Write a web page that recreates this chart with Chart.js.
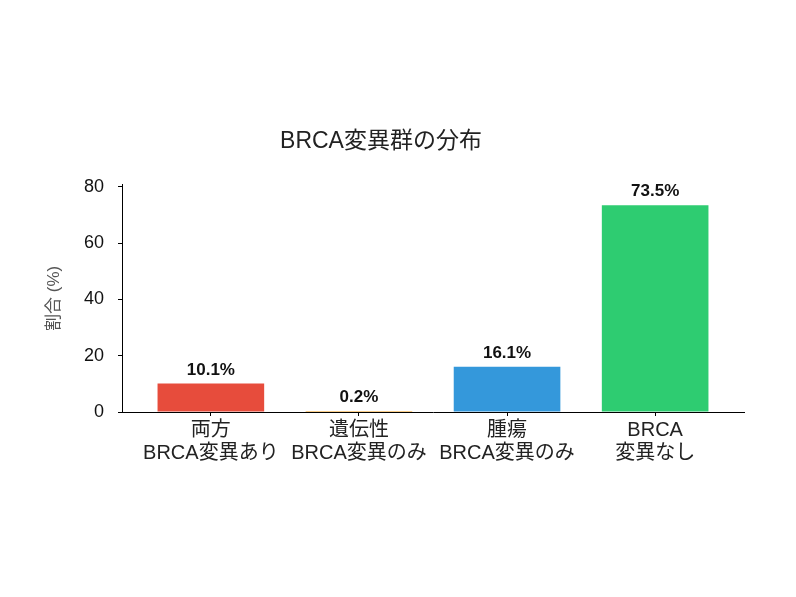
<!DOCTYPE html>
<html lang="ja">
<head>
    <meta charset="UTF-8">
    <title>BRCA変異群の分布</title>
    <style>
        html, body { margin: 0; padding: 0; background: #fff; }
        #wrap { width: 796px; height: 597px; }
    </style>
</head>
<body>
    <div id="wrap">
        <canvas id="brcaChart" width="796" height="597"></canvas>
    </div>
    <script src="https://cdn.jsdelivr.net/npm/chart.js"></script>
    <script>
        // データ
        const categories = [
            ['両方', 'BRCA変異あり'],
            ['遺伝性', 'BRCA変異のみ'],
            ['腫瘍', 'BRCA変異のみ'],
            ['BRCA', '変異なし']
        ];
        const percentages = [10.1, 0.2, 16.1, 73.5];
        const barColors = ['#e74c3c', '#f39c12', '#3498db', '#2ecc71'];
        const yTickValues = [0, 20, 40, 60, 80];

        const FONT = '"Liberation Sans", Arial, "Noto Sans CJK JP", sans-serif';

        // 棒の上に値を描く
        const valueLabels = {
            id: 'valueLabels',
            afterDatasetsDraw(chart) {
                const ctx = chart.ctx;
                const meta = chart.getDatasetMeta(0);
                ctx.save();
                ctx.font = 'bold 17px ' + FONT;
                ctx.fillStyle = '#111';
                ctx.textAlign = 'center';
                ctx.textBaseline = 'bottom';
                meta.data.forEach((bar, i) => {
                    ctx.fillText(percentages[i].toFixed(1) + '%', bar.x, bar.y - 5);
                });
                ctx.restore();
            }
        };

        const ctx1 = document.getElementById('brcaChart');
        const chart = new Chart(ctx1, {
            type: 'bar',
            data: {
                datasets: [{
                    data: percentages.map((v, i) => ({ x: i, y: v })),
                    backgroundColor: barColors,
                    borderWidth: 0,
                    minBarLength: 1,
                    barPercentage: 0.72,
                    categoryPercentage: 1
                }]
            },
            options: {
                responsive: false,
                animation: false,
                devicePixelRatio: 1,
                layout: {
                    padding: { left: 18, right: 52, top: 128, bottom: 100 }
                },
                scales: {
                    x: {
                        type: 'linear',
                        min: -0.6,
                        max: 3.6,
                        offset: false,
                        afterBuildTicks: axis => {
                            axis.ticks = categories.map((c, i) => ({ value: i }));
                        },
                        afterFit: scale => { scale.height = 85; },
                        grid: { display: true, drawOnChartArea: false, offset: false, tickLength: 4, color: '#000' },
                        border: { display: true, color: '#000', width: 1 },
                        ticks: {
                            autoSkip: false,
                            maxRotation: 0,
                            padding: 3,
                            color: '#222',
                            font: { family: FONT, size: 20, lineHeight: 1.15 },
                            callback: v => categories[v] || ''
                        }
                    },
                    y: {
                        min: 0,
                        max: 80.85,
                        afterBuildTicks: axis => {
                            axis.ticks = yTickValues.map(v => ({ value: v }));
                        },
                        afterFit: scale => { scale.width = 104; },
                        grid: { display: true, drawOnChartArea: false, tickLength: 4, color: '#000' },
                        border: { display: true, color: '#000', width: 1 },
                        ticks: {
                            padding: 14,
                            color: '#111',
                            font: { family: FONT, size: 18 }
                        },
                        title: {
                            display: true,
                            text: '割合 (%)',
                            color: '#555',
                            font: { family: FONT, size: 17 },
                            padding: { top: 26, bottom: 0 }
                        }
                    }
                },
                plugins: {
                    legend: { display: false },
                    tooltip: { enabled: false },
                    title: {
                        display: true,
                        text: 'BRCA変異群の分布',
                        color: '#222',
                        font: { family: FONT, size: 23, weight: 'normal', lineHeight: 1.2 },
                        padding: { top: 0, bottom: 29 }
                    }
                }
            },
            plugins: [valueLabels]
        });
    </script>
</body>
</html>
